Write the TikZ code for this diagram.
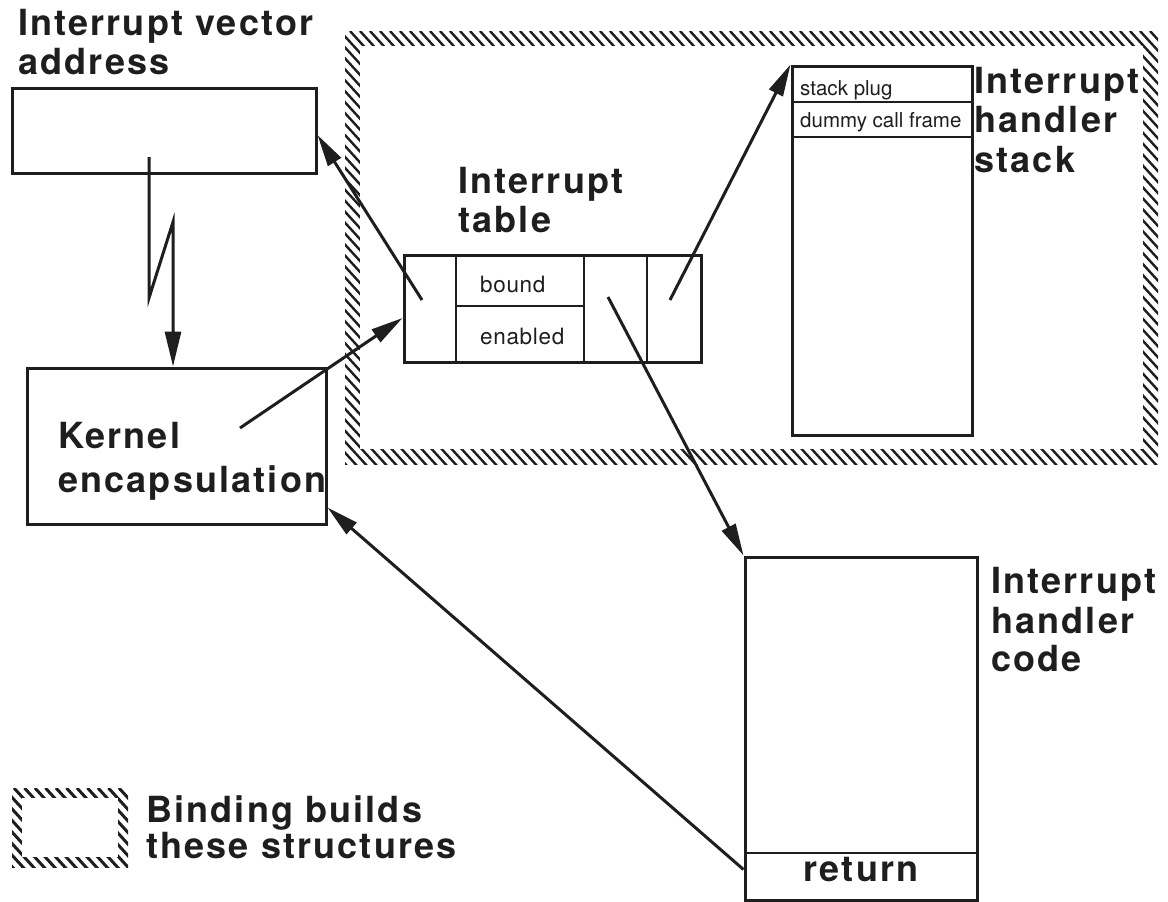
\documentclass[tikz,border=0pt]{standalone}
\usepackage{fontspec}
\setmainfont{TeX Gyre Heros}
\newfontfamily\lblfont{TeX Gyre Heros}[LetterSpace=6]
\newfontfamily\cellfont{TeX Gyre Heros}[LetterSpace=3]
\usetikzlibrary{arrows.meta,calc}
\definecolor{ink}{HTML}{1E1E1E}
\begin{document}
\begin{tikzpicture}[x=1pt,y=-1pt,
  lbl/.style={inner sep=0pt, anchor=base west, text=ink,
    font=\lblfont\bfseries\fontsize{36pt}{40pt}\selectfont},
  cell/.style={inner sep=0pt, anchor=base west, text=ink,
    font=\cellfont\fontsize{22.5pt}{26pt}\selectfont},
  small/.style={inner sep=0pt, anchor=base west, text=ink,
    font=\fontsize{20.5pt}{24pt}\selectfont},
  box/.style={draw=ink, line width=3pt, inner sep=0pt, rectangle},
  divider/.style={draw=ink, line width=2.8pt},
  hatchline/.style={draw=ink, line width=2.4pt},
  arr/.style={draw=ink, line width=3pt, -{Triangle[length=32pt,width=15pt]}},
]
\useasboundingbox (0,0) rectangle (1168,902);

% ---- hatched frame (binding builds these structures)
\begin{scope}
  \clip (345,31) rectangle (1158,464);
  \foreach \a in {-90,-80,...,1160} {
    \draw[hatchline] (\a,31) -- ++(420,460);
  }
\end{scope}
\fill[white] (360,46) rectangle (1143,449);

% ---- legend hatched box
\begin{scope}
  \clip (12,788) rectangle (128,867);
  \foreach \a in {-70,-59.5,...,130} {
    \draw[hatchline, line width=3pt] (\a,788) -- ++(80,88);
  }
\end{scope}
\fill[white] (22,798) rectangle (118,857);

% ---- boxes
\node[box, minimum width=304pt, minimum height=85pt] (iva) at (164,130.5) {};
\node[box, minimum width=299pt, minimum height=156pt] (kernel) at (176.5,446) {};
\node[box, minimum width=297pt, minimum height=107pt] (table) at (552.5,308.5) {};
\node[box, minimum width=180pt, minimum height=369pt] (stack) at (882,250.5) {};
\node[box, minimum width=232pt, minimum height=343pt] (code) at (861,728.5) {};

% table dividers
\draw[divider] (456,255) -- (456,362);
\draw[divider] (584,255) -- (584,362);
\draw[divider] (647,255) -- (647,362);
\draw[divider] (456,306) -- (584,306);
% stack dividers
\draw[divider] (792,102) -- (972,102);
\draw[divider] (792,137) -- (972,137);
% code divider
\draw[divider] (745,853) -- (977,853);

% ---- texts
\node[lbl] (ivaA) at (18,35) {Interrupt vector};
\node[lbl] (ivaB) at (18,74) {address};
\node[lbl] (tabA) at (458,193) {Interrupt};
\node[lbl] (tabB) at (458,232) {table};
\node[lbl] (stkA) at (974,93) {Interrupt};
\node[lbl] (stkB) at (974,132) {handler};
\node[lbl] (stkC) at (974,172) {stack};
\node[lbl] (codA) at (991,593) {Interrupt};
\node[lbl] (codB) at (991,633) {handler};
\node[lbl] (codC) at (991,671) {code};
\node[lbl] (kerA) at (58,448) {Kernel};
\node[lbl] (kerB) at (58,492) {encapsulation};
\node[lbl] (legA) at (146,822) {Binding builds};
\node[lbl] (legB) at (146,858) {these structures};
\node[lbl, anchor=base] (ret) at (861,881) {return};
\node[cell] (bnd) at (480,292) {bound};
\node[cell] (enb) at (480,344) {enabled};
\node[small] (plug) at (800,95) {stack plug};
\node[small] (dummy) at (800,127) {dummy call frame};

% ---- connectors
\coordinate (z0) at (149,157);
\coordinate (z1) at (149,298);
\coordinate (z2) at (173,222);
\draw[arr, -{Triangle[length=35pt,width=16pt]}] (z0) -- (z1) -- (z2) -- (kernel.north -| z2);

\coordinate (t1) at (422,300);
\draw[arr] (t1) -- ([yshift=-4.5pt]iva.east);

\coordinate (k1) at (240,428);
\draw[arr] (k1) -- ([yshift=-9.5pt]table.west);

\coordinate (t4) at (670,300);
\draw[arr] (t4) -- (stack.north west);

\coordinate (t3) at (608,297);
\draw[arr] (t3) -- (code.north west);

\coordinate (r1) at ([yshift=32pt]code.south west);
\draw[arr] (r1) -- ([yshift=18pt]kernel.south east);
\end{tikzpicture}
\end{document}
